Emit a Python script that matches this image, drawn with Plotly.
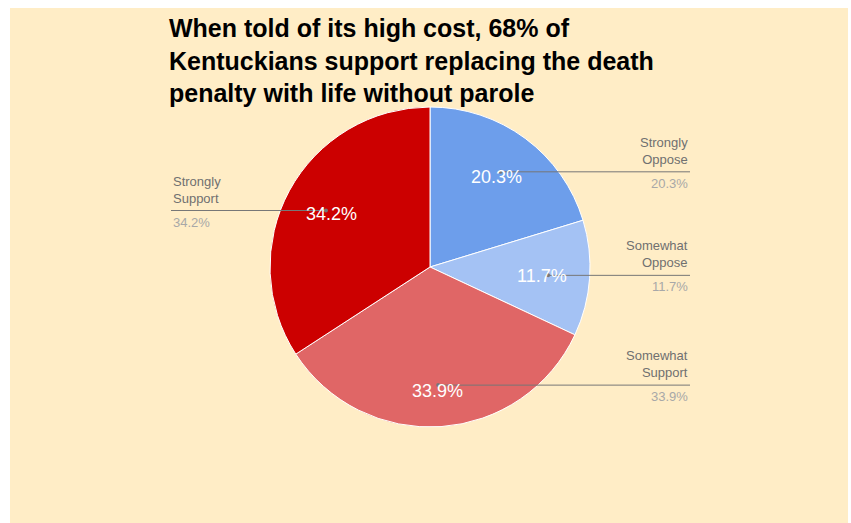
import math
import plotly.graph_objects as go

categories = ["Strongly Oppose", "Somewhat Oppose", "Somewhat Support", "Strongly Support"]
label_lines = [["Strongly", "Oppose"], ["Somewhat", "Oppose"], ["Somewhat", "Support"], ["Strongly", "Support"]]
values = [20.3, 11.7, 33.9, 34.2]
colors = ["#6D9EEB", "#A4C2F4", "#E06666", "#CC0000"]
title_lines = ["When told of its high cost, 68% of",
               "Kentuckians support replacing the death",
               "penalty with life without parole"]

W, H = 851, 523
CX, CY, R = 430, 267, 160
BG = "#FFEDC6"

def px(x):
    return x / W

def py(y):
    return 1 - y / H

fig = go.Figure()
fig.add_trace(go.Pie(
    labels=categories, values=values, sort=False, direction="clockwise", rotation=0,
    marker=dict(colors=colors, line=dict(color="white", width=1)),
    textinfo="none", hoverinfo="label+percent", showlegend=False,
    domain=dict(x=[px(CX - R), px(CX + R)], y=[py(CY + R), py(CY - R)]),
))

shapes = [dict(type="rect", xref="paper", yref="paper", x0=px(10), x1=px(848), y0=py(523), y1=py(8),
               fillcolor=BG, line=dict(width=0), layer="below")]
annotations = [dict(xref="paper", yref="paper", x=px(167), y=py(12), xanchor="left", yanchor="top",
                    align="left", showarrow=False,
                    text="<b>" + "<br>".join(title_lines) + "</b>",
                    font=dict(family="Liberation Sans, Arial", size=25, color="black"))]
total = sum(values)
cum = 0.0
for cat, lines, v in zip(categories, label_lines, values):
    mid = (cum + v / 2) / total * 2 * math.pi
    cum += v
    pct = f"{v / total * 100:.1f}%"
    s, c = math.sin(mid), -math.cos(mid)
    dotx, doty = CX + 0.74 * R * s, CY + 0.74 * R * c
    tx = CX + 0.70 * R * s
    ty = CY + 0.70 * R * c + 12 * max(0.0, c)
    # inside label
    annotations.append(dict(xref="paper", yref="paper", x=px(tx), y=py(ty), text=pct,
                            showarrow=False, xanchor="center", yanchor="middle",
                            font=dict(family="Liberation Sans, Arial", size=18, color="white")))
    right = s > 0
    endx = 690 if right else 171
    shapes.append(dict(type="line", xref="paper", yref="paper", x0=px(dotx), x1=px(endx),
                       y0=py(doty), y1=py(doty), line=dict(color="#777777", width=1)))
    shapes.append(dict(type="circle", xref="paper", yref="paper", x0=px(dotx - 2), x1=px(dotx + 2),
                       y0=py(doty + 2), y1=py(doty - 2), fillcolor="#777777", line=dict(width=0)))
    anchor = "right" if right else "left"
    annotations.append(dict(xref="paper", yref="paper", x=px(endx), y=py(doty - 3),
                            text="<br>".join(lines), showarrow=False, xanchor=anchor, yanchor="bottom",
                            align=anchor,
                            font=dict(family="Liberation Sans, Arial", size=13, color="#707070")))
    annotations.append(dict(xref="paper", yref="paper", x=px(endx), y=py(doty + 2),
                            text=pct, showarrow=False, xanchor=anchor, yanchor="top", align=anchor,
                            font=dict(family="Liberation Sans, Arial", size=13, color="#A8A8A8")))

fig.update_layout(
    width=W, height=H, margin=dict(l=0, r=0, t=0, b=0),
    paper_bgcolor="white", plot_bgcolor="white",
    shapes=shapes, annotations=annotations,
)
fig.write_html("out.html", config={"displayModeBar": False},
               post_script="document.body.style.margin='0';")
